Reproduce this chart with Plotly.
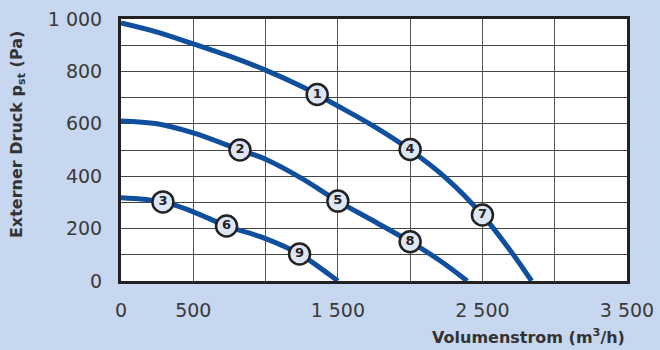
import plotly.graph_objects as go

# Curve data (Volumenstrom m3/h, Druck Pa)
c1_x = [0, 250, 500, 750, 1000, 1250, 1500, 1750, 2000, 2250, 2500, 2700, 2840]
c1_y = [985, 950, 905, 858, 805, 742, 668, 590, 500, 392, 252, 111, 0]

c2_x = [0, 250, 500, 823, 1000, 1250, 1500, 1750, 2000, 2200, 2395]
c2_y = [611, 600, 565, 500, 465, 392, 305, 228, 150, 80, 0]

c3_x = [0, 290, 500, 730, 1000, 1235, 1440, 1500]
c3_y = [318, 302, 264, 210, 162, 103, 25, 0]

# Numbered operating points
pt_labels = ["1", "2", "3", "4", "5", "6", "7", "8", "9"]
pt_x = [1357, 823, 290, 2000, 1500, 730, 2500, 2000, 1235]
pt_y = [712, 500, 302, 502, 305, 210, 252, 150, 103]

x_ticks = [0, 500, 1500, 2500, 3500]
x_ticktext = ["0", "500", "1 500", "2 500", "3 500"]
y_ticks = [0, 200, 400, 600, 800, 1000]
y_ticktext = ["0", "200", "400", "600", "800", "1 000"]

LINE = "#0f4f9e"
BG = "#c6d7ef"
TXT = "#333333"

fig = go.Figure()
for xs, ys in [(c1_x, c1_y), (c2_x, c2_y), (c3_x, c3_y)]:
    fig.add_trace(go.Scatter(x=xs, y=ys, mode="lines",
                             line=dict(color=LINE, width=5, shape="spline", smoothing=1.0),
                             hoverinfo="skip", showlegend=False, cliponaxis=True))

fig.add_trace(go.Scatter(
    x=pt_x, y=pt_y, mode="markers+text", text=pt_labels,
    textposition="middle center",
    textfont=dict(family="DejaVu Sans", size=13, color="#222222", weight="bold"),
    marker=dict(size=21, color="#dde6f4", line=dict(color="#222222", width=2.5)),
    showlegend=False, cliponaxis=False))

fig.update_layout(
    width=660, height=350,
    margin=dict(l=121, r=33, t=19, b=69, autoexpand=False),
    paper_bgcolor=BG, plot_bgcolor="white",
    font=dict(family="DejaVu Sans", color=TXT),
)
fig.update_xaxes(range=[0, 3500], tickvals=x_ticks, ticktext=x_ticktext,
                 showgrid=True, gridcolor="#555555", gridwidth=1,
                 minor=dict(dtick=500, tick0=0, showgrid=True, gridcolor="#555555", gridwidth=1),
                 showline=True, linecolor="#222222", linewidth=3, mirror=True,
                 ticks="", ticklabelstandoff=10, zeroline=False, automargin=False,
                 tickfont=dict(family="DejaVu Sans", size=19, color="#3a3a3a"))
fig.update_yaxes(range=[0, 1000], tickvals=y_ticks, ticktext=y_ticktext,
                 showgrid=True, gridcolor="#444444", gridwidth=1,
                 minor=dict(dtick=100, tick0=0, showgrid=True, gridcolor="#444444", gridwidth=1),
                 showline=True, linecolor="#222222", linewidth=3, mirror=True,
                 ticks="", ticklabelstandoff=12, zeroline=False, automargin=False,
                 tickfont=dict(family="DejaVu Sans", size=19, color="#3a3a3a"))

fig.add_annotation(text="Volumenstrom (m<sup>3</sup>/h)", xref="paper", yref="paper",
                   x=1.0, y=-0.21, xanchor="right", yanchor="middle", showarrow=False,
                   font=dict(family="DejaVu Sans", size=16, color=TXT, weight="bold"))
fig.add_annotation(text="Externer Druck p<sub>st</sub> (Pa)", xref="paper", yref="paper",
                   x=-0.2055, y=0.557, xanchor="center", yanchor="middle", showarrow=False,
                   textangle=-90,
                   font=dict(family="DejaVu Sans", size=16, color=TXT, weight="bold"))

fig.write_html("out.html", config={"displayModeBar": False},
               post_script="document.body.style.margin='0';document.body.style.overflow='hidden';")
